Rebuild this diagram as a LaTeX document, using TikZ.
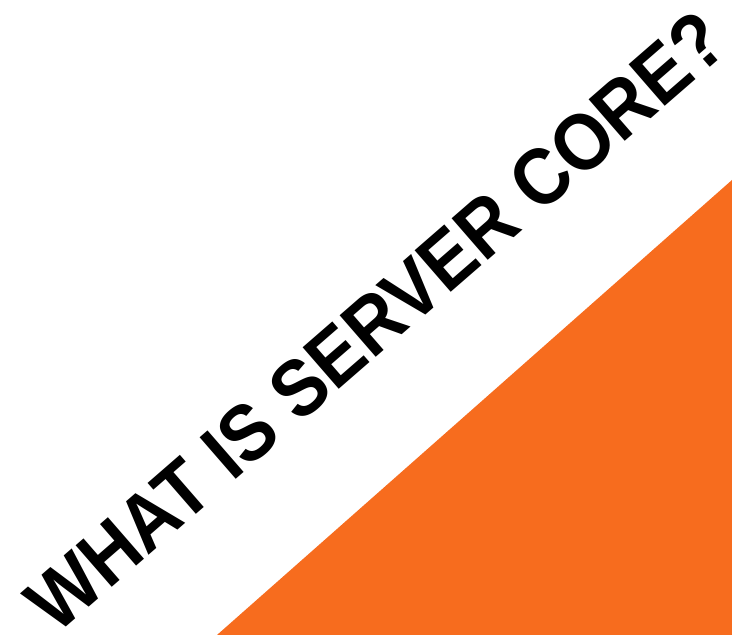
\documentclass[tikz,border=0pt]{standalone}
\usepackage{fontspec}
\setmainfont{Liberation Sans}
\definecolor{slideorange}{RGB}{247,108,30}
\begin{document}
\begin{tikzpicture}[x=1pt,y=1pt]
\useasboundingbox (0,0) rectangle (732,635);
\fill[white] (0,0) rectangle (732,635);
\coordinate (t1) at (732,455);
\coordinate (t2) at (732,0);
\coordinate (t3) at (217,0);
\fill[slideorange] (t1) -- (t2) -- (t3) -- cycle;
\node[anchor=base west, inner sep=0pt, rotate=41, xscale=0.91, font=\fontsize{80}{80}\selectfont\bfseries] (title) at (56,-1) {WHAT IS SERVER CORE?};
\end{tikzpicture}
\end{document}
